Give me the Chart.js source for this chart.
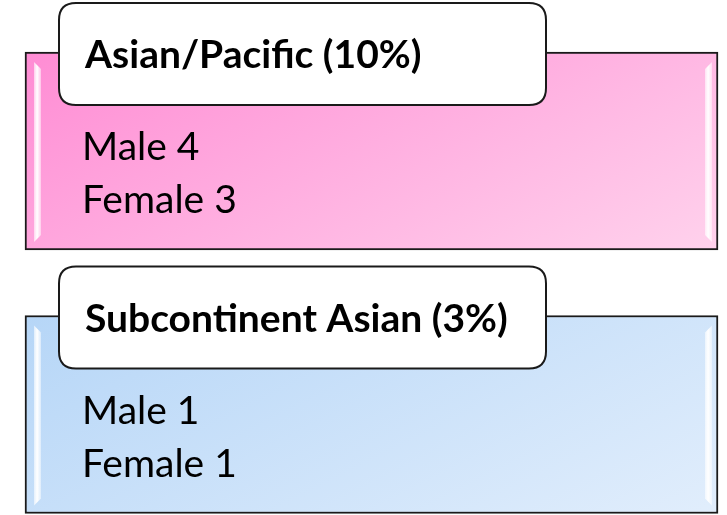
<!DOCTYPE html>
<html>
<head>
<meta charset="utf-8">
<script src="https://cdn.jsdelivr.net/npm/chart.js@4/dist/chart.umd.min.js"></script>
<style>
  html, body { margin: 0; padding: 0; background: #fff; }
  #wrap { width: 727px; height: 515px; position: relative; }
</style>
</head>
<body>
<div id="wrap"><canvas id="panels"></canvas></div>
<script>
// Data
const groups = ['Asian/Pacific (10%)', 'Subcontinent Asian (3%)'];
const maleCounts = [4, 1];
const femaleCounts = [3, 1];

// Panel colours (top-left -> bottom-right)
const panelColors = [
    ['#ff8cd4', '#ffdff1'],
    ['#b6d6f7', '#e9f2fd']
];

const BAR_H = 198;

function panelFill(ctx) {
    const chart = ctx.chart;
    const area = chart.chartArea;
    if (!area) return panelColors[ctx.dataIndex % 2][0];
    const cy = chart.scales.y.getPixelForValue(ctx.dataIndex);
    const top = cy - BAR_H / 2;
    const g = chart.ctx.createLinearGradient(area.left, top, area.left + 260, top + BAR_H + 320);
    const c = panelColors[ctx.dataIndex % 2];
    g.addColorStop(0, c[0]);
    g.addColorStop(1, c[1]);
    return g;
}

function roundRect(c, x, y, w, h, r) {
    c.beginPath();
    c.moveTo(x + r, y);
    c.lineTo(x + w - r, y);
    c.quadraticCurveTo(x + w, y, x + w, y + r);
    c.lineTo(x + w, y + h - r);
    c.quadraticCurveTo(x + w, y + h, x + w - r, y + h);
    c.lineTo(x + r, y + h);
    c.quadraticCurveTo(x, y + h, x, y + h - r);
    c.lineTo(x, y + r);
    c.quadraticCurveTo(x, y, x + r, y);
    c.closePath();
}

function highlight(c, x, top, bottom, flip) {
    const w = 7;
    const x0 = flip ? x - w : x;
    const g = c.createLinearGradient(x0, 0, x0 + w, 0);
    g.addColorStop(0, 'rgba(255,255,255,0.55)');
    g.addColorStop(0.45, 'rgba(255,255,255,1)');
    g.addColorStop(1, 'rgba(255,255,255,0.45)');
    c.fillStyle = g;
    c.beginPath();
    const d = flip ? -w : w;
    c.moveTo(x, top);
    c.lineTo(x + d, top + 7);
    c.lineTo(x + d, bottom - 7);
    c.lineTo(x, bottom);
    c.closePath();
    c.fill();
}

const panelPlugin = {
    id: 'panelPlugin',
    afterDatasetsDraw(chart) {
        const c = chart.ctx;
        const meta = chart.getDatasetMeta(0);
        meta.data.forEach((bar, i) => {
            const p = bar.getProps(['x', 'y', 'base', 'height'], true);
            const left = Math.min(p.x, p.base);
            const right = Math.max(p.x, p.base);
            const top = p.y - p.height / 2;
            const bottom = p.y + p.height / 2;

            c.save();
            // glossy edges
            highlight(c, left + 9, top + 10, bottom - 8, false);
            highlight(c, right - 6, top + 10, bottom - 8, true);

            // title tab
            const tabX = left + 34, tabY = top - 49, tabW = 487, tabH = 102;
            roundRect(c, tabX, tabY, tabW, tabH, 17);
            c.fillStyle = '#ffffff';
            c.fill();
            c.lineWidth = 2;
            c.strokeStyle = '#1a1a1a';
            c.stroke();

            c.fillStyle = '#000000';
            c.textBaseline = 'alphabetic';
            c.textAlign = 'left';
            c.font = 'bold 39px Lato';
            c.fillText(groups[i], left + 60, tabY + 65);

            c.font = '39px Lato';
            c.fillText('Male ' + maleCounts[i], left + 57, top + 108);
            c.fillText('Female ' + femaleCounts[i], left + 57, top + 161);
            c.restore();
        });
    }
};

new Chart(document.getElementById('panels'), {
    type: 'bar',
    data: {
        labels: groups,
        datasets: [{
            data: groups.map(() => [0, 1]),
            backgroundColor: panelFill,
            borderColor: '#1a1a1a',
            borderWidth: 2,
            borderSkipped: false,
            barThickness: BAR_H,
            clip: false
        }]
    },
    options: {
        indexAxis: 'y',
        responsive: true,
        maintainAspectRatio: false,
        animation: false,
        layout: { padding: { left: 25, right: 9, top: 151, bottom: 100.5 } },
        scales: {
            x: { type: 'linear', min: 0, max: 1, display: false },
            y: { type: 'category', offset: false, display: false }
        },
        plugins: {
            legend: { display: false },
            tooltip: { enabled: false }
        }
    },
    plugins: [panelPlugin]
});
</script>
</body>
</html>
